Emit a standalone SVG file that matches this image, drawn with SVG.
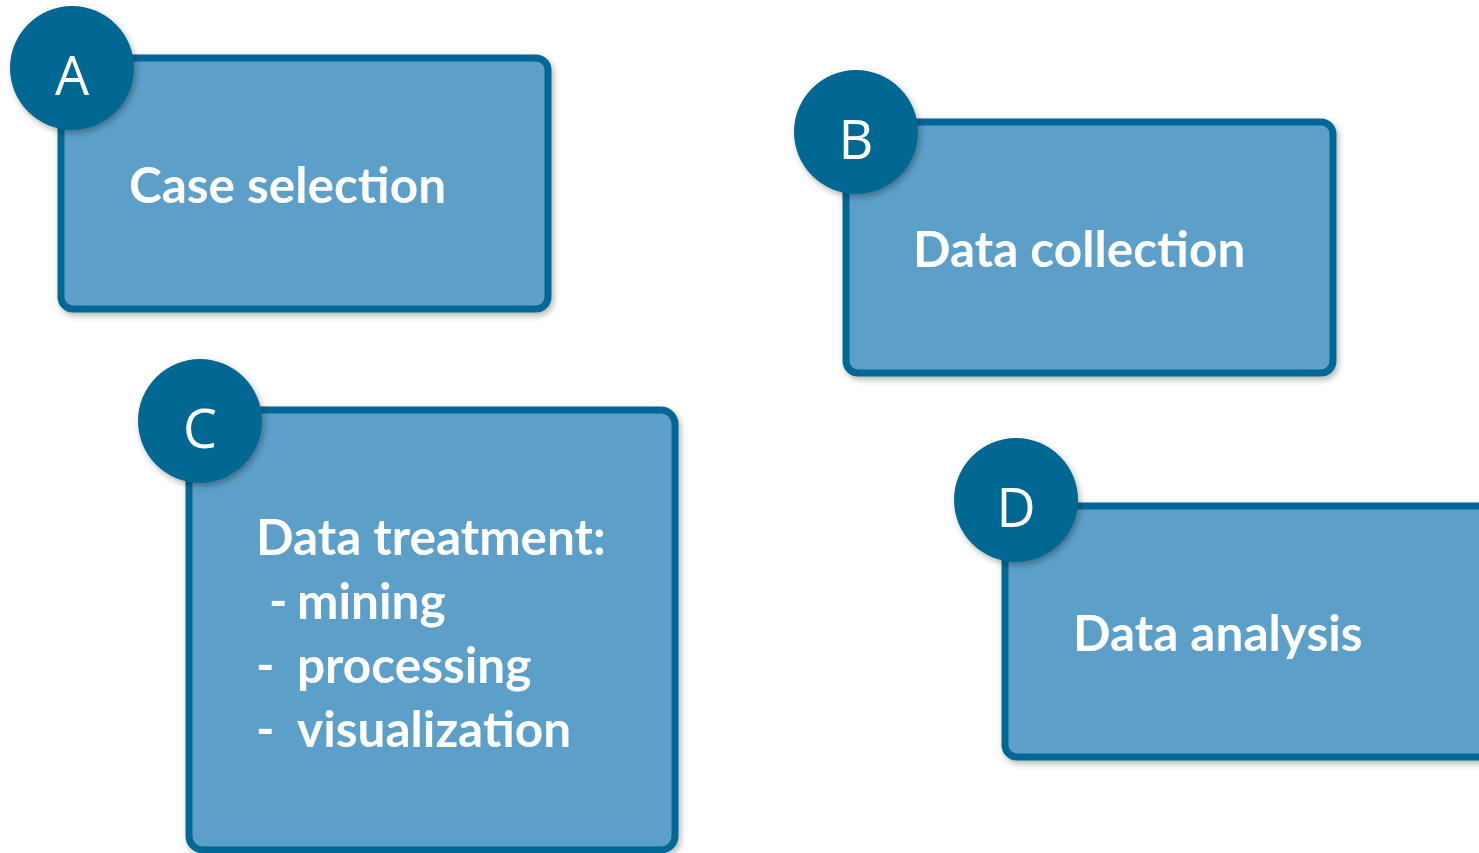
<svg xmlns="http://www.w3.org/2000/svg" width="1479" height="853" viewBox="0 0 1479 853">
<style>
.box{fill:#5B9FC8;stroke:#006894;stroke-width:7;filter:url(#sh)}
.badge{fill:#006893;filter:url(#sh)}
.lbl{font-family:Lato,"Open Sans","Liberation Sans",sans-serif;font-weight:bold;font-size:49.5px;fill:#fff}
.let{font-family:"Open Sans","Liberation Sans",sans-serif;font-size:54px;fill:#fff;text-anchor:middle}
</style>
<defs>
<filter id="sh" x="-10%" y="-10%" width="125%" height="125%">
<feDropShadow dx="2" dy="3" stdDeviation="3" flood-color="#000" flood-opacity="0.3"/>
</filter>
</defs>
<rect width="1479" height="853" fill="#fff"/>
<g id="nodeA">
<rect class="box" x="61" y="58" width="487" height="251" rx="12"/>
<circle class="badge" cx="72" cy="68" r="62"/>
<text class="let" x="72" y="95">A</text>
<text class="lbl" x="129" y="203">Case selection</text>
</g>
<g id="nodeB">
<rect class="box" x="846" y="122" width="487" height="251" rx="12"/>
<circle class="badge" cx="856" cy="132" r="62"/>
<text class="let" x="856" y="159">B</text>
<text class="lbl" x="913" y="267">Data collection</text>
</g>
<g id="nodeC">
<rect class="box" x="189" y="410" width="486" height="440" rx="14"/>
<circle class="badge" cx="200" cy="421" r="62"/>
<text class="let" x="200" y="448">C</text>
<text class="lbl"><tspan x="256" y="555">Data treatment:</tspan><tspan x="269" y="619">-</tspan><tspan x="297" y="619">mining</tspan><tspan x="256" y="683">-</tspan><tspan x="297" y="683">processing</tspan><tspan x="256" y="747">-</tspan><tspan x="297" y="747">visualization</tspan></text>
</g>
<g id="nodeD">
<rect class="box" x="1005" y="506" width="520" height="251" rx="12"/>
<circle class="badge" cx="1016" cy="500" r="62"/>
<text class="let" x="1016" y="527">D</text>
<text class="lbl" x="1073" y="651">Data analysis</text>
</g>
<g id="connectors"></g>
</svg>
